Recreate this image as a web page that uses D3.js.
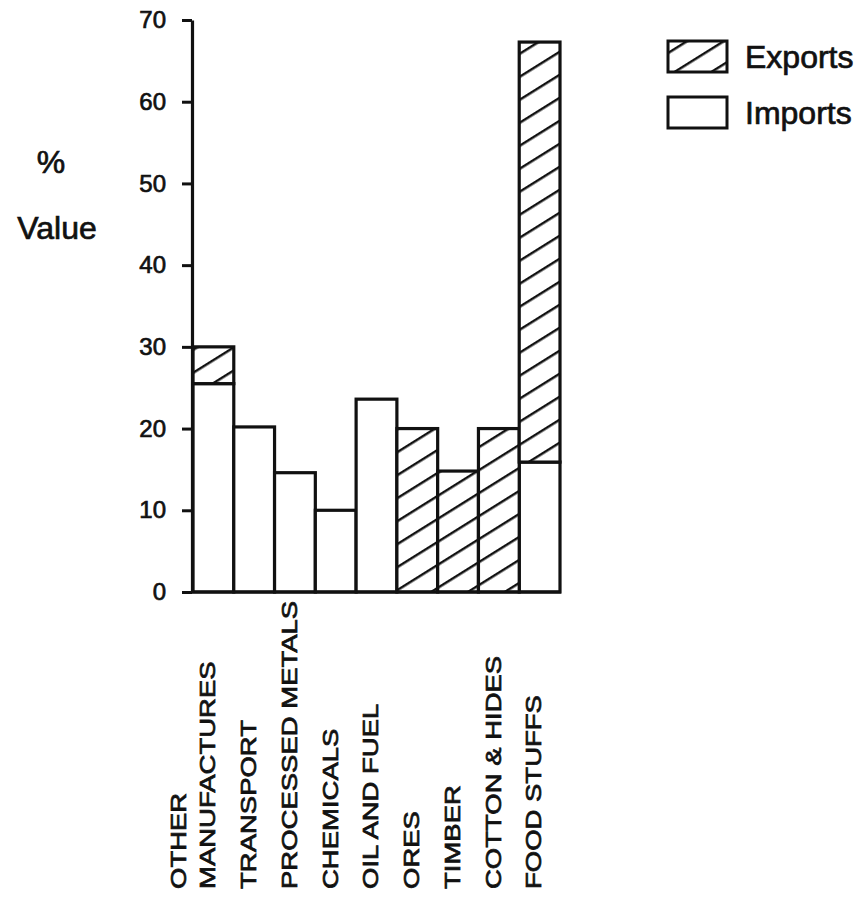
<!DOCTYPE html>
<html>
<head>
<meta charset="utf-8">
<script src="https://cdn.jsdelivr.net/npm/d3@7/dist/d3.min.js"></script>
<style>
  html, body { margin: 0; padding: 0; background: #fff; }
  svg { display: block; }
  text { font-family: "Liberation Sans", Arial, sans-serif; fill: #111; stroke: #111; stroke-width: 0.7px; }
</style>
</head>
<body>
<script>
// ---- data ----
const categories = ["OTHER\nMANUFACTURES", "TRANSPORT", "PROCESSED METALS", "CHEMICALS",
                    "OIL AND FUEL", "ORES", "TIMBER", "COTTON & HIDES", "FOOD STUFFS"];
const imports = [25.5, 20.2, 14.6, 10, 23.6, 0, 0, 0, 15.9];
const exports = [4.5, 0, 0, 0, 0, 20, 14.8, 20, 51.4];
const yTicks = [0, 10, 20, 30, 40, 50, 60, 70];
const seriesNames = ["Exports", "Imports"];
const yLabelLines = ["%", "Value"];

// ---- layout ----
const W = 866, H = 905;
const svg = d3.select("body").append("svg").attr("width", W).attr("height", H);

const defs = svg.append("defs");
const pat = defs.append("pattern")
  .attr("id", "hatch")
  .attr("patternUnits", "userSpaceOnUse")
  .attr("width", 40).attr("height", 19.5)
  .attr("patternTransform", "rotate(-32)");
pat.append("rect").attr("width", 40).attr("height", 19.5).attr("fill", "#fff");
pat.append("line").attr("x1", 0).attr("x2", 40).attr("y1", 9).attr("y2", 9)
  .attr("stroke", "#111").attr("stroke-width", 2.4);

const x = d3.scaleBand().domain(categories).range([193, 560]).padding(0);
const y = d3.scaleLinear().domain([0, 70]).range([592, 20]);

// bars: imports at bottom, exports stacked on top
const rows = categories.map((c, i) => ({ c, imp: imports[i], exp: exports[i] }));
const g = svg.append("g");

g.selectAll("rect.imp").data(rows.filter(d => d.imp > 0)).join("rect")
  .attr("class", "imp")
  .attr("x", d => x(d.c)).attr("width", x.bandwidth())
  .attr("y", d => y(d.imp)).attr("height", d => y(0) - y(d.imp))
  .attr("fill", "#fff").attr("stroke", "#111").attr("stroke-width", 3.2);

g.selectAll("rect.exp").data(rows.filter(d => d.exp > 0)).join("rect")
  .attr("class", "exp")
  .attr("x", d => x(d.c)).attr("width", x.bandwidth())
  .attr("y", d => y(d.imp + d.exp)).attr("height", d => y(d.imp) - y(d.imp + d.exp))
  .attr("fill", "url(#hatch)").attr("stroke", "#111").attr("stroke-width", 3.2);

// baseline
svg.append("line")
  .attr("x1", 191).attr("x2", 561).attr("y1", y(0)).attr("y2", y(0))
  .attr("stroke", "#111").attr("stroke-width", 3.2);

// y axis
const yAxis = d3.axisLeft(y).tickValues(yTicks).tickSize(10).tickSizeOuter(0).tickPadding(16);
const ax = svg.append("g").attr("transform", "translate(192,0)").call(yAxis);
ax.select(".domain").attr("stroke", "#111").attr("stroke-width", 3.2);
ax.selectAll(".tick line").attr("stroke", "#111").attr("stroke-width", 3);
ax.selectAll(".tick text").style("font-size", "24px")
  .style("font-family", "'Liberation Sans', Arial, sans-serif")
  .attr("fill", "#111").attr("stroke", "#111").attr("stroke-width", 0.7);

// y label
svg.append("text").attr("x", 51).attr("y", 173).attr("text-anchor", "middle")
  .style("font-size", "32px").text(yLabelLines[0]);
svg.append("text").attr("x", 57).attr("y", 239).attr("text-anchor", "middle")
  .style("font-size", "32px").text(yLabelLines[1]);

// x category labels (rotated)
const labFont = 22, lineGap = 29;
categories.forEach(c => {
  const lines = c.split("\n");
  const cx = x(c) + x.bandwidth() / 2 - 6;
  lines.forEach((ln, i) => {
    const lx = cx - (lines.length - 1 - i) * lineGap + labFont * 0.716 / 2;
    svg.append("text")
      .attr("transform", `translate(${lx},889) rotate(-90) scale(1.25,1)`)
      .attr("text-anchor", "start")
      .style("font-size", labFont + "px")
      .text(ln);
  });
});

// legend
const leg = svg.append("g");
const legFills = ["url(#hatch)", "#fff"];
const legY = [41, 97];
seriesNames.forEach((s, i) => {
  leg.append("rect").attr("x", 668).attr("y", legY[i]).attr("width", 59).attr("height", 31)
    .attr("fill", legFills[i]).attr("stroke", "#111").attr("stroke-width", 3);
  leg.append("text").attr("x", 745).attr("y", legY[i] + 27)
    .style("font-size", "32px").text(s);
});
</script>
</body>
</html>
